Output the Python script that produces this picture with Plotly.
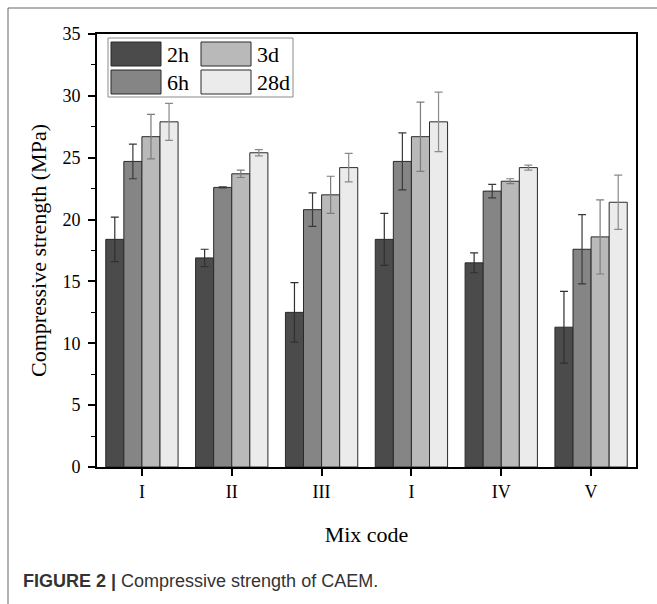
import plotly.graph_objects as go

# Compressive strength (MPa) of each mix at four curing ages
mix_codes = ["I", "II", "III", "I", "IV", "V"]
ages = ["2h", "6h", "3d", "28d"]

strength_2h = [18.4, 16.9, 12.5, 18.4, 16.5, 11.3]
strength_6h = [24.7, 22.6, 20.8, 24.7, 22.3, 17.6]
strength_3d = [26.7, 23.7, 22.0, 26.7, 23.1, 18.6]
strength_28d = [27.9, 25.4, 24.2, 27.9, 24.2, 21.4]

error_2h = [1.8, 0.7, 2.4, 2.1, 0.8, 2.9]
error_6h = [1.4, 0.05, 1.35, 2.3, 0.55, 2.8]
error_3d = [1.8, 0.3, 1.5, 2.8, 0.2, 3.0]
error_28d = [1.5, 0.25, 1.15, 2.4, 0.2, 2.2]

y_ticks = [0, 5, 10, 15, 20, 25, 30, 35]

series = [
    ("2h", strength_2h, error_2h, "#4b4b4b", "#303030"),
    ("6h", strength_6h, error_6h, "#858585", "#3a3a3a"),
    ("3d", strength_3d, error_3d, "#b9b9b9", "#7c7c7c"),
    ("28d", strength_28d, error_28d, "#ebebeb", "#8a8a8a"),
]

W, H = 657, 604
L, R, T, B = 97, 21, 34, 137
PW, PH = W - L - R, H - T - B


def px(x):
    return (x - L) / PW


def py(y):
    return (H - B - y) / PH


serif = "Liberation Serif, Times New Roman, serif"
positions = list(range(len(mix_codes)))

fig = go.Figure()
for name, vals, errs, fill, ecol in series:
    fig.add_trace(go.Bar(
        x=positions, y=vals, name=name, showlegend=False,
        marker=dict(color=fill, line=dict(color="#2a2a2a", width=1)),
        error_y=dict(type="data", array=errs, visible=True,
                     color=ecol, thickness=1.2, width=4),
    ))

shapes = []
annotations = []

# outer panel border (left and top edges)
shapes.append(dict(type="line", xref="paper", yref="paper",
                   x0=px(8), x1=px(8), y0=py(8), y1=py(H + 2),
                   line=dict(color="#666666", width=1)))
shapes.append(dict(type="line", xref="paper", yref="paper",
                   x0=px(8), x1=px(W + 2), y0=py(8), y1=py(8),
                   line=dict(color="#666666", width=1)))

# legend box with large swatches, two columns
shapes.append(dict(type="rect", xref="paper", yref="paper",
                   x0=px(108), x1=px(293), y0=py(38), y1=py(97),
                   line=dict(color="#8a8a8a", width=1), fillcolor="white"))
legend_layout = [
    ("2h", "#4b4b4b", 111, 42),
    ("3d", "#b9b9b9", 201, 42),
    ("6h", "#858585", 111, 70),
    ("28d", "#ebebeb", 201, 70),
]
for label, fill, x0, y0 in legend_layout:
    shapes.append(dict(type="rect", xref="paper", yref="paper",
                       x0=px(x0), x1=px(x0 + 50), y0=py(y0), y1=py(y0 + 24),
                       line=dict(color="#2a2a2a", width=1), fillcolor=fill))
    annotations.append(dict(xref="paper", yref="paper", x=px(x0 + 54),
                            y=py(y0 + 12), text=label, showarrow=False,
                            xanchor="left", yanchor="middle",
                            font=dict(family=serif, size=22, color="black")))

# caption
annotations.append(dict(
    xref="paper", yref="paper", x=px(21), y=py(581),
    text="<b>FIGURE 2 |</b> Compressive strength of CAEM.",
    showarrow=False, xanchor="left", yanchor="middle",
    font=dict(family="Liberation Sans, Arial, sans-serif", size=18,
              color="#333333")))

fig.update_layout(
    width=W, height=H,
    margin=dict(l=L, r=R, t=T, b=B),
    paper_bgcolor="white", plot_bgcolor="white",
    barmode="group", bargap=0.195, bargroupgap=0,
    shapes=shapes, annotations=annotations,
    font=dict(family=serif, color="black"),
    xaxis=dict(
        range=[-0.5, len(mix_codes) - 0.5],
        tickmode="array", tickvals=positions, ticktext=mix_codes,
        ticks="outside", ticklen=7, tickwidth=1.5, tickcolor="black",
        showline=True, linecolor="black", linewidth=2, mirror=True,
        showgrid=False, zeroline=False,
        tickfont=dict(family=serif, size=18, color="black"),
        title=dict(text="Mix code", font=dict(family=serif, size=22),
                   standoff=26),
    ),
    yaxis=dict(
        range=[0, 35], tickmode="array", tickvals=y_ticks,
        ticks="outside", ticklen=7, tickwidth=1.5, tickcolor="black",
        minor=dict(dtick=2.5, ticks="outside", ticklen=4, tickwidth=1.2,
                   tickcolor="black", showgrid=False),
        showline=True, linecolor="black", linewidth=2, mirror=True,
        showgrid=False, zeroline=False,
        tickfont=dict(family=serif, size=18, color="black"),
        ticklabelstandoff=4,
        title=dict(text="Compressive strength (MPa)",
                   font=dict(family=serif, size=22), standoff=10),
    ),
)

fig.write_html("out.html")
